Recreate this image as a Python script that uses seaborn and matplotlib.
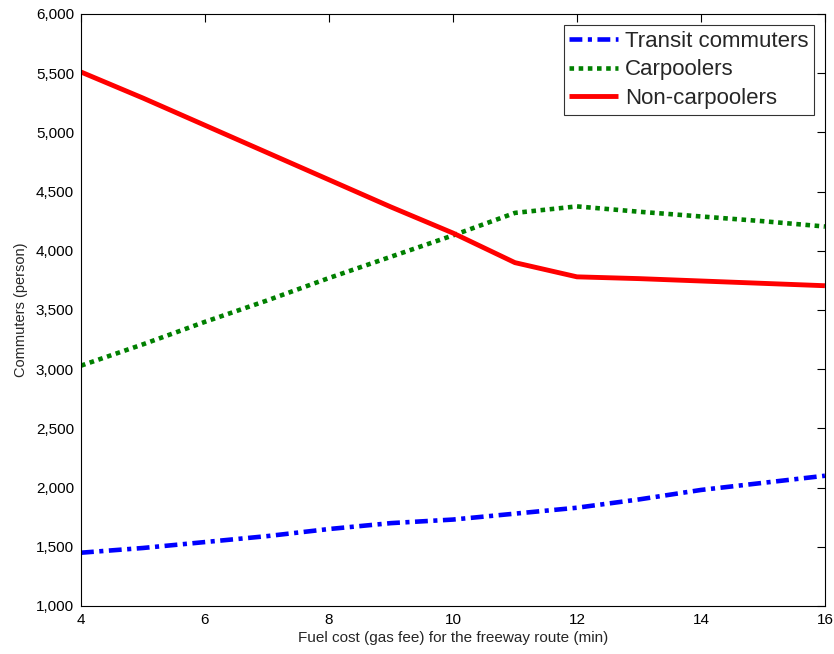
import matplotlib
matplotlib.use("Agg")
import matplotlib.pyplot as plt
import matplotlib.ticker as mticker
import seaborn as sns
import pandas as pd

fuel_cost = [4, 5, 6, 7, 8, 9, 10, 11, 12, 13, 14, 15, 16]
transit = [1450, 1490, 1540, 1590, 1650, 1700, 1730, 1780, 1830, 1900, 1980, 2040, 2100]
carpool = [3030, 3210, 3400, 3580, 3770, 3950, 4130, 4320, 4375, 4330, 4290, 4250, 4205]
noncarpool = [5510, 5290, 5060, 4830, 4600, 4370, 4150, 3900, 3780, 3765, 3745, 3725, 3705]

series_names = ["Transit commuters", "Carpoolers", "Non-carpoolers"]
xlabel = "Fuel cost (gas fee) for the freeway route (min)"
ylabel = "Commuters (person)"

sns.set_style("white")
plt.rcParams["font.family"] = ["Liberation Sans", "DejaVu Sans"]

fig = plt.figure(figsize=(8.34, 6.54), dpi=100)
ax = fig.add_axes([0.0971, 0.0734, 0.8920, 0.9052])

styles = [
    dict(color="#0000ff", ls=(0, (2.8, 1.2, 0.9, 1.2)), lw=3.3),
    dict(color="#008000", ls=(0, (1.0, 1.0)), lw=3.3),
    dict(color="#ff0000", ls="-", lw=3.5),
]
for name, vals, st in zip(series_names, [transit, carpool, noncarpool], styles):
    df = pd.DataFrame({"x": fuel_cost, "y": vals})
    sns.lineplot(data=df, x="x", y="y", ax=ax, color=st["color"], linestyle=st["ls"],
                 linewidth=st["lw"], label=name)
for ln in ax.lines:
    ln.set_dash_capstyle("butt")
    ln.set_solid_capstyle("butt")

ax.set_xlim(4, 16)
ax.set_ylim(1000, 6000)
ax.set_xticks(range(4, 17, 2))
ax.set_yticks(range(1000, 6001, 500))
ax.yaxis.set_major_formatter(mticker.FuncFormatter(lambda v, p: f"{int(v):,}"))
ax.tick_params(direction="in", length=6, width=0.8, top=True, right=True,
               labelsize=11, colors="black", pad=5)
for s in ax.spines.values():
    s.set_color("black")
    s.set_linewidth(0.8)
ax.set_xlabel(xlabel, fontsize=11, labelpad=3)
ax.set_ylabel(ylabel, fontsize=10.5, labelpad=6)

leg = ax.legend(loc="upper right", fontsize=16, frameon=True, fancybox=False,
                edgecolor="black", borderpad=0.25, handlelength=2.2, handletextpad=0.3,
                labelspacing=0.35, borderaxespad=0.5)
leg.get_frame().set_linewidth(0.8)

fig.savefig("out.png", dpi=100)
